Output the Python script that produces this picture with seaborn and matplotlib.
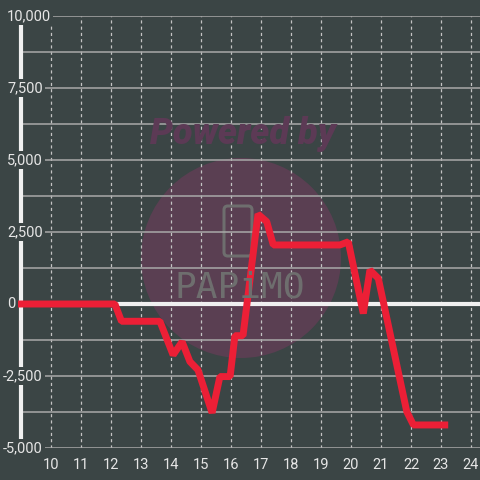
import matplotlib
matplotlib.use("Agg")
import matplotlib.pyplot as plt
import matplotlib.patches as mpatches
import seaborn as sns
import pandas as pd

# datos
hora = [8.9, 12.13, 12.35, 13.63, 14.07, 14.37, 14.63, 14.9, 15.37, 15.63, 15.97,
        16.13, 16.4, 16.55, 16.9, 17.19, 17.41, 19.63, 19.91, 20.41, 20.63,
        20.91, 21.86, 22.08, 23.24]
valor = [0, 0, -600, -600, -1770, -1310, -2000, -2290, -3780, -2520, -2520,
         -1100, -1100, 150, 3120, 2860, 2050, 2050, 2160, -330, 1180,
         890, -3740, -4200, -4200]
x_ticks = list(range(10, 25))
y_labels = [10000, 7500, 5000, 2500, 0, -2500, -5000]

bg = '#3b4545'
fg = '#e6e6e6'
rojo = '#ec1f36'

sns.set_style('dark')
plt.rcParams['font.family'] = ['Roboto', 'DejaVu Sans']

df = pd.DataFrame({'hora': hora, 'valor': valor})

fig = plt.figure(figsize=(4.8, 4.8), dpi=100, facecolor=bg)
ax = fig.add_axes([21 / 480, 32 / 480, 459 / 480, 432 / 480])
ax.set_facecolor(bg)

# marca de agua
circ = mpatches.Circle((241 / 480, 1 - 258 / 480), 100 / 480,
                       transform=fig.transFigure, facecolor='#5a3f52',
                       edgecolor='none', zorder=0.2)
ax.add_patch(circ)
icono = mpatches.FancyBboxPatch((224 / 480, 1 - 256 / 480), 28 / 480, 50 / 480,
                                boxstyle='round,pad=0,rounding_size=0.008',
                                transform=fig.transFigure, facecolor='none',
                                edgecolor='#6e6e6e', lw=2.2, zorder=0.3)
ax.add_patch(icono)
fig.text(243 / 480, 1 - 134 / 480, 'Powered by', color='#5c3a55',
         fontsize=26, fontweight='heavy', fontstyle='italic',
         ha='center', va='center', zorder=0.3)
fig.text(240 / 480, 1 - 287 / 480, 'PAPiMO', color='#6e6e6e',
         fontsize=26, fontweight='light', ha='center', va='center',
         family='DejaVu Sans Mono', zorder=0.3)

sns.lineplot(data=df, x='hora', y='valor', ax=ax, color=rojo, linewidth=5,
             estimator=None, sort=False, zorder=3, clip_on=False)
ax.lines[-1].set_solid_joinstyle('bevel')
ax.lines[-1].set_solid_capstyle('butt')

ax.set_xlim(9.0, 24.3)
ax.set_ylim(-5000, 10000)

ax.set_xticks(x_ticks)
ax.set_xticklabels([str(t) for t in x_ticks])
ax.set_yticks(range(-5000, 10001, 1250))
ax.set_yticklabels([])
ax.tick_params(axis='both', length=0)
ax.tick_params(axis='x', colors=fg, labelsize=10.5, pad=7)

ax.set_axisbelow(True)
ax.grid(False)
ax.grid(axis='x', color='#c4c4c4', lw=0.9, ls=(0, (2.5, 2.5)))
ax.grid(axis='y', color='#a9a9a9', lw=1.1, ls='-')

for s in ax.spines.values():
    s.set_visible(False)

# eje y y linea de cero
ax.axvline(9.0, color='#f0f0f0', lw=3, zorder=2, clip_on=False)
ax.axhline(0, color='#f0f0f0', lw=3, zorder=2)

for v in y_labels:
    dx = -18 if v < 0 else -14
    ax.annotate(f'{v:,}', xy=(0, v), xycoords=('axes fraction', 'data'),
                xytext=(dx, 0), textcoords='offset pixels',
                ha='left', va='center', color=fg, fontsize=10.5,
                annotation_clip=False, zorder=5,
                bbox=dict(facecolor=bg, edgecolor='none', pad=1.5))

ax.set_xlabel('')
ax.set_ylabel('')

plt.savefig('out.png', dpi=100, facecolor=bg)
